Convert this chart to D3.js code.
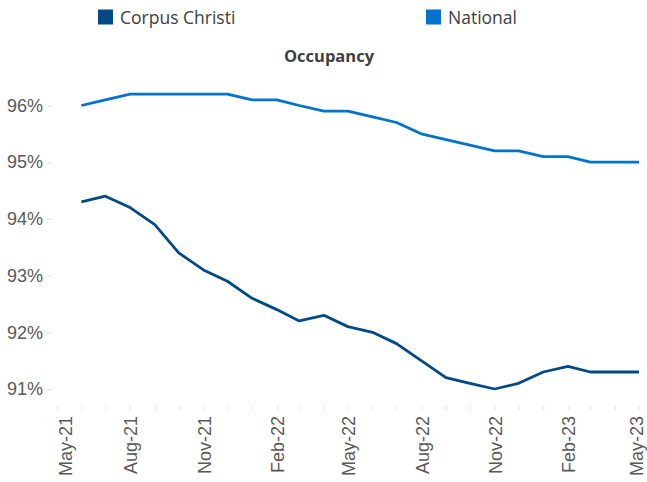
<!DOCTYPE html>
<html>
<head>
<meta charset="utf-8">
<script src="https://cdn.jsdelivr.net/npm/d3@7"></script>
<style>
  body { margin: 0; background: #fff; }
  #chart text { font-family: "Liberation Sans", Arial, sans-serif; }
</style>
</head>
<body>
<div id="chart"></div>
<script>
// monthly occupancy, Jun-21 .. May-23
const months = ['Jun-21', 'Jul-21', 'Aug-21', 'Sep-21', 'Oct-21', 'Nov-21', 'Dec-21',
  'Jan-22', 'Feb-22', 'Mar-22', 'Apr-22', 'May-22', 'Jun-22', 'Jul-22', 'Aug-22',
  'Sep-22', 'Oct-22', 'Nov-22', 'Dec-22', 'Jan-23', 'Feb-23', 'Mar-23', 'Apr-23', 'May-23'];
const corpusChristi = [94.3, 94.4, 94.2, 93.9, 93.4, 93.1, 92.9, 92.6, 92.4, 92.2, 92.3, 92.1,
  92.0, 91.8, 91.5, 91.2, 91.1, 91.0, 91.1, 91.3, 91.4, 91.3, 91.3, 91.3];
const national = [96.0, 96.1, 96.2, 96.2, 96.2, 96.2, 96.2, 96.1, 96.1, 96.0, 95.9, 95.9,
  95.8, 95.7, 95.5, 95.4, 95.3, 95.2, 95.2, 95.1, 95.1, 95.0, 95.0, 95.0];
const xTickLabels = ['May-21', 'Aug-21', 'Nov-21', 'Feb-22', 'May-22', 'Aug-22', 'Nov-22', 'Feb-23', 'May-23'];
const yTicks = [91, 92, 93, 94, 95, 96];

const seriesNames = ['Corpus Christi', 'National'];
const seriesColors = ['#004a87', '#0073cf'];

const width = 647, height = 482;
const parse = d3.timeParse('%b-%y');

const svg = d3.select('#chart').append('svg')
  .attr('width', width)
  .attr('height', height);

const x = d3.scaleTime()
  .domain([parse(xTickLabels[0]), parse(xTickLabels[xTickLabels.length - 1])])
  .range([56.7, 639]);

const y = d3.scaleLinear()
  .domain([91, 96])
  .range([389, 105.5]);

const baseY = y(90.7);

// y axis (labels + tiny light ticks, no line)
const yAxis = svg.append('g')
  .attr('transform', 'translate(52,0)')
  .call(d3.axisLeft(y).tickValues(yTicks).tickFormat(d => d + '%').tickSize(5).tickPadding(4));
yAxis.select('.domain').remove();
yAxis.selectAll('line').attr('stroke', '#e3e3e3');
yAxis.selectAll('text')
  .attr('fill', '#595959')
  .style('font-size', '18px')
  .style('font-family', '"Liberation Sans", Arial, sans-serif');

// x axis: monthly ticks
const xAxis = svg.append('g')
  .attr('transform', `translate(0,${baseY})`)
  .call(d3.axisBottom(x).ticks(d3.timeMonth.every(1)).tickSize(4).tickFormat(''));
xAxis.select('.domain').remove();
xAxis.selectAll('line').attr('stroke', '#e3e3e3');

// rotated quarter labels (kept inside the plot edges like Excel does)
svg.append('g').selectAll('text')
  .data(xTickLabels)
  .join('text')
  .attr('transform', d => {
    const px = Math.min(Math.max(x(parse(d)) + 1, 66), 637);
    return `translate(${px},${baseY + 10}) rotate(-90)`;
  })
  .attr('text-anchor', 'end')
  .attr('dy', '0.35em')
  .attr('fill', '#595959')
  .style('font-size', '18px')
  .text(d => d);

// lines
const line = d3.line()
  .x((d, i) => x(parse(months[i])))
  .y(d => y(d));

[corpusChristi, national].forEach((values, k) => {
  svg.append('path')
    .datum(values)
    .attr('fill', 'none')
    .attr('stroke', seriesColors[k])
    .attr('stroke-width', 2.8)
    .attr('stroke-linejoin', 'round')
    .attr('d', line);
});

// title
svg.append('text')
  .attr('x', 329)
  .attr('y', 62)
  .attr('text-anchor', 'middle')
  .attr('fill', '#404040')
  .style('font-family', '"Open Sans", sans-serif')
  .style('font-weight', 'bold')
  .style('font-size', '16.5px')
  .text('Occupancy');

// legend
const legendX = [98, 426];
const legend = svg.append('g').selectAll('g')
  .data(seriesNames)
  .join('g')
  .attr('transform', (d, i) => `translate(${legendX[i]},0)`);

legend.append('rect')
  .attr('x', 0)
  .attr('y', 9.5)
  .attr('width', 15)
  .attr('height', 15)
  .attr('fill', (d, i) => seriesColors[i]);

legend.append('text')
  .attr('x', 22)
  .attr('y', 24)
  .attr('fill', '#404040')
  .style('font-family', '"Open Sans", sans-serif')
  .style('font-size', '17.5px')
  .text(d => d);
</script>
</body>
</html>
